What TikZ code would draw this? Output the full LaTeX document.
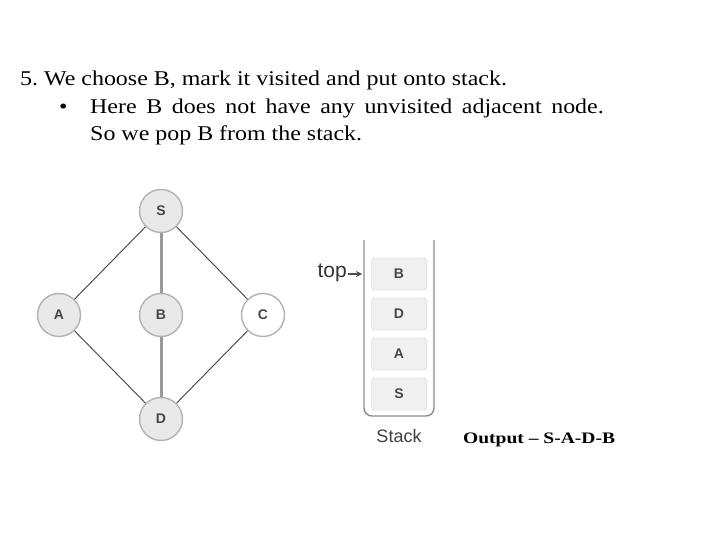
\documentclass[tikz,border=0pt]{standalone}
\usepackage{fontspec}
\setmainfont{Liberation Serif}
\newfontfamily\widefont[FakeStretch=1.14]{Liberation Serif}
\newfontfamily\widerfont[FakeStretch=1.22]{Liberation Serif}
\newfontfamily\labfont{Liberation Sans}
\usetikzlibrary{arrows.meta}
\frenchspacing
\begin{document}
\begin{tikzpicture}[x=1pt,y=-1pt,
  txt/.style={anchor=base west,font=\widefont\fontsize{21}{24}\selectfont,inner sep=0pt},
  vert/.style={circle,draw=black!30,line width=1.4pt,fill=gray!17,minimum size=43pt,inner sep=0pt,font=\labfont\bfseries\fontsize{14}{14}\selectfont,text=black!72},
  darkedge/.style={draw=black!75,line width=0.9pt},
  grayedge/.style={draw=black!40,line width=3pt},
  stk/.style={draw=black!22,rounded corners=3pt,fill=gray!12,minimum width=55pt,minimum height=32pt,inner sep=0pt,font=\labfont\bfseries\fontsize{14}{14}\selectfont,text=black!72}]
\useasboundingbox (0,0) rectangle (720,540);
% text
\node[txt] (l1) at (20,86) {5. We choose B, mark it visited and put onto stack.};
\node[txt] (bul) at (59,114) {•};
\node[txt] (l2) at (90,114) {\spaceskip=9.6pt Here B does not have any unvisited adjacent node.};
\node[txt] (l3) at (90,141) {So we pop B from the stack.};
% graph
\node[vert] (S) at (161,211) {S};
\node[vert] (A) at (59,315) {A};
\node[vert] (B) at (161,315) {B};
\node[vert,fill=white] (C) at (263,315) {C};
\node[vert] (D) at (161,419) {D};
\draw[darkedge] (S) -- (A);
\draw[darkedge] (S) -- (C);
\draw[darkedge] (A) -- (D);
\draw[darkedge] (C) -- (D);
\draw[grayedge] (S) -- (B);
\draw[grayedge] (B) -- (D);
% stack
\draw[draw=black!45,line width=1.4pt,rounded corners=8pt] (364,240) -- (364,416) -- (434,416) -- (434,240);
\node[stk] (sB) at (399,274) {B};
\node[stk] (sD) at (399,314) {D};
\node[stk] (sA) at (399,354) {A};
\node[stk] (sS) at (399,394) {S};
\node[anchor=east,font=\labfont\fontsize{21}{21}\selectfont,text=black!80,inner sep=0pt] (top) at (347,273) {top};
\coordinate (tipend) at (362,274);
\draw[black!70,line width=1.2pt,-{Stealth[length=6pt,width=6pt]}] (top.east) ++(1,1) -- (tipend);
\node[font=\labfont\fontsize{18}{18}\selectfont,text=black!75] (stlab) at (399,436) {Stack};
\node[anchor=base west,font=\widerfont\fontsize{16}{16}\selectfont\bfseries,inner sep=0pt] (out) at (463,443) {Output – S-A-D-B};
\end{tikzpicture}
\end{document}
